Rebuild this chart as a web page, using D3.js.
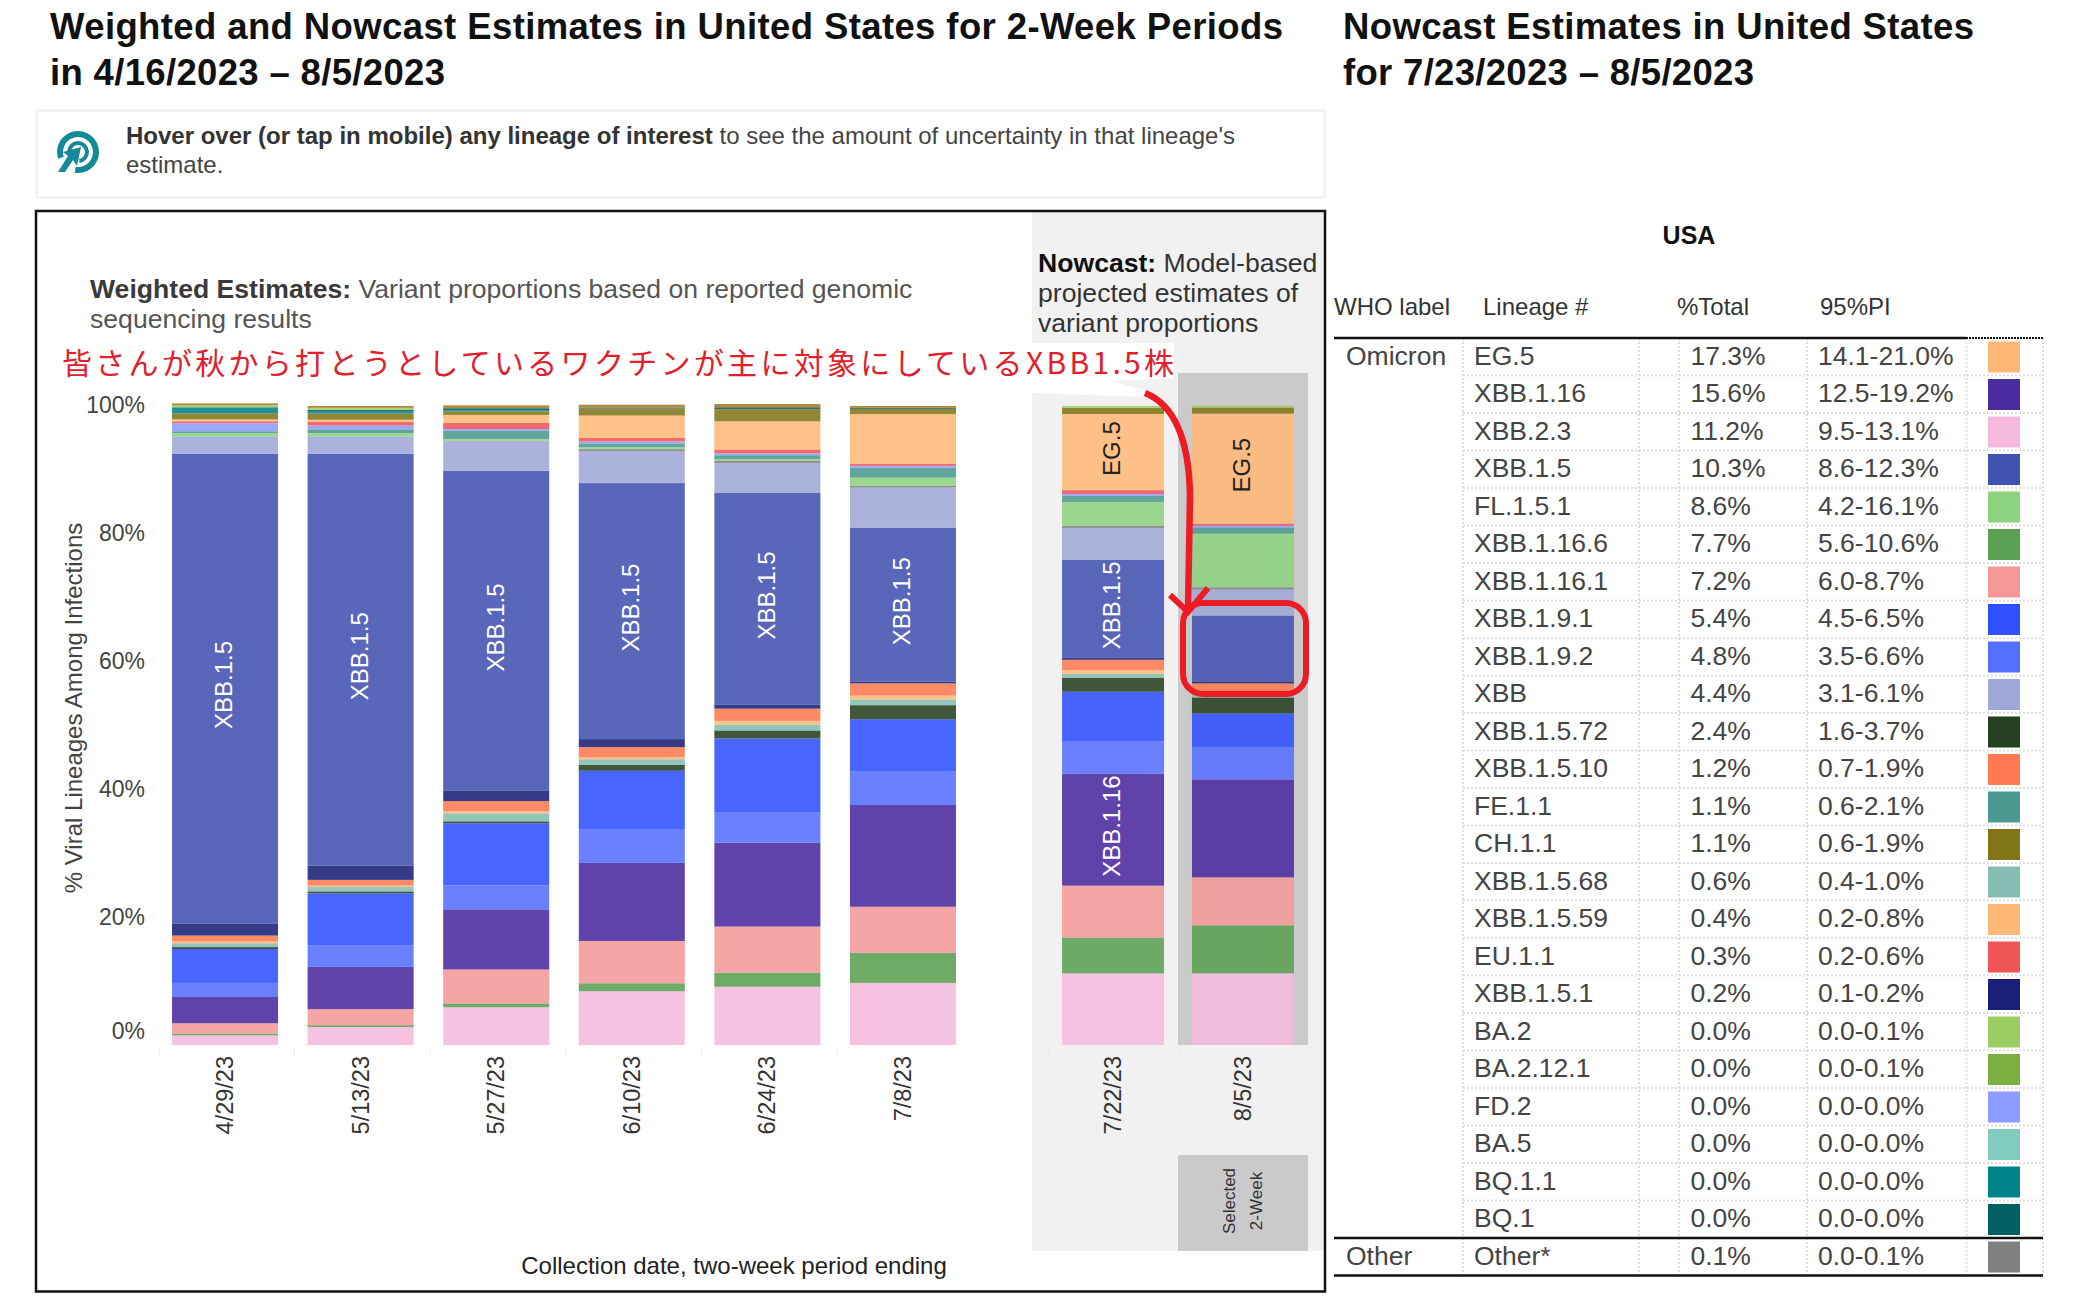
<!DOCTYPE html>
<html>
<head>
<meta charset="utf-8">
<script src="https://cdn.jsdelivr.net/npm/d3@7"></script>
<style>
  body { margin: 0; background: #fff; }
  text { font-family: "Liberation Sans", Arial, sans-serif; }
</style>
</head>
<body>
<script>
const w = 2073;
const h = 1307;

// periods
const weightedDates = ["4/29/23", "5/13/23", "5/27/23", "6/10/23", "6/24/23", "7/8/23"];
const nowcastDates = ["7/22/23", "8/5/23"];
const allDates = weightedDates.concat(nowcastDates);

// % per period (same order as allDates)
const xbb23 = [1.5, 2.8, 5.9, 8.4, 9.1, 9.7, 11.2, 11.2];
const xbb1166 = [0.3, 0.3, 0.6, 1.25, 2.2, 4.7, 5.6, 7.5];
const xbb1161 = [1.6, 2.5, 5.3, 6.6, 7.2, 7.2, 8.1, 7.5];
const xbb116 = [4.1, 6.6, 9.4, 12.2, 13.1, 15.9, 17.5, 15.3];
const xbb192 = [2.2, 3.4, 3.75, 5.3, 4.7, 5.3, 5.0, 5.0];
const xbb191 = [5.3, 8.1, 9.7, 9.1, 11.6, 8.1, 7.8, 5.3];
const xbb1572 = [0.3, 0.3, 0.3, 0.9, 1.25, 2.2, 2.2, 2.5];
const xbb1568 = [0.6, 0.7, 1.25, 0.9, 0.9, 0.9, 0.6, 0.6];
const xbb1559 = [0.3, 0.2, 0.3, 0.3, 0.6, 0.6, 0.6, 0.4];
const xbb1510 = [0.9, 0.9, 1.6, 1.6, 1.9, 1.9, 1.6, 1.2];
const xbb151 = [1.9, 2.2, 1.6, 1.25, 0.6, 0.3, 0.3, 0.3];
const xbb15 = [73.4, 64.4, 50, 40, 33.1, 24, 15.3, 10.3];
const xbb = [2.7, 2.7, 4.7, 5, 4.7, 6.3, 5, 4.1];
const other = [0, 0, 0, 0.3, 0.3, 0.3, 0.3, 0.3];
const fl151 = [0.5, 0.5, 0.3, 0.3, 0.3, 1.25, 3.75, 8.4];
const fe11 = [0.3, 0.6, 1.25, 0.6, 0.6, 1.55, 0.95, 0.95];
const fd2 = [1.25, 0.6, 0.3, 0.3, 0.3, 0.3, 0.3, 0.3];
const eu11 = [0.3, 0.6, 0.95, 0.6, 0.6, 0.3, 0.6, 0.3];
const eg5 = [0.3, 0.3, 1.25, 3.45, 4.4, 7.8, 11.9, 17.2];
const ch11 = [0.95, 0.95, 0.55, 1.1, 1.9, 0.8, 0.95, 0.95];
const bq11 = [0.95, 0.3, 0.2, 0, 0, 0, 0, 0];
const bq1 = [0, 0.3, 0.3, 0.15, 0.3, 0.15, 0, 0];
const ba2 = [0.3, 0.3, 0, 0, 0, 0, 0.3, 0.3];
const older = [0.3, 0.3, 0.45, 0.45, 0.5, 0.3, 0, 0];

const stackNames = ["XBB.2.3", "XBB.1.16.6", "XBB.1.16.1", "XBB.1.16", "XBB.1.9.2", "XBB.1.9.1",
  "XBB.1.5.72", "XBB.1.5.68", "XBB.1.5.59", "XBB.1.5.10", "XBB.1.5.1", "XBB.1.5", "XBB", "Other*",
  "FL.1.5.1", "FE.1.1", "FD.2", "EU.1.1", "EG.5", "CH.1.1", "BQ.1.1", "BQ.1", "BA.2", "Older"];
const stackValues = [xbb23, xbb1166, xbb1161, xbb116, xbb192, xbb191, xbb1572, xbb1568, xbb1559,
  xbb1510, xbb151, xbb15, xbb, other, fl151, fe11, fd2, eu11, eg5, ch11, bq11, bq1, ba2, older];

// table on the right
const tableLineages = ["EG.5", "XBB.1.16", "XBB.2.3", "XBB.1.5", "FL.1.5.1", "XBB.1.16.6", "XBB.1.16.1",
  "XBB.1.9.1", "XBB.1.9.2", "XBB", "XBB.1.5.72", "XBB.1.5.10", "FE.1.1", "CH.1.1", "XBB.1.5.68",
  "XBB.1.5.59", "EU.1.1", "XBB.1.5.1", "BA.2", "BA.2.12.1", "FD.2", "BA.5", "BQ.1.1", "BQ.1", "Other*"];
const tableTotals = ["17.3%", "15.6%", "11.2%", "10.3%", "8.6%", "7.7%", "7.2%", "5.4%", "4.8%", "4.4%",
  "2.4%", "1.2%", "1.1%", "1.1%", "0.6%", "0.4%", "0.3%", "0.2%", "0.0%", "0.0%", "0.0%", "0.0%",
  "0.0%", "0.0%", "0.1%"];
const tablePI = ["14.1-21.0%", "12.5-19.2%", "9.5-13.1%", "8.6-12.3%", "4.2-16.1%", "5.6-10.6%", "6.0-8.7%",
  "4.5-6.5%", "3.5-6.6%", "3.1-6.1%", "1.6-3.7%", "0.7-1.9%", "0.6-2.1%", "0.6-1.9%", "0.4-1.0%",
  "0.2-0.8%", "0.2-0.6%", "0.1-0.2%", "0.0-0.1%", "0.0-0.1%", "0.0-0.0%", "0.0-0.0%", "0.0-0.0%",
  "0.0-0.0%", "0.0-0.1%"];
const tableColors = ["#ffb878", "#4a2a9f", "#f5b9de", "#4152b0", "#8dd27f", "#5a9f52", "#f59898",
  "#3050ff", "#5570ff", "#9fa8d8", "#254020", "#ff7a50", "#4a9a92", "#827518", "#85bdb2",
  "#ffb878", "#f05555", "#1a2078", "#9dcd65", "#7daf40", "#8c9cff", "#82cbbf", "#00838a",
  "#005f60", "#808080"];
const yTicks = [0, 20, 40, 60, 80, 100];

const colorOf = d3.scaleOrdinal()
  .domain(tableLineages.concat(["Older"]))
  .range(tableColors.concat(["#a87a20"]));

const svg = d3.select("body").append("svg").attr("width", w).attr("height", h)
  .style("display", "block");

function txt(x, y, str, o = {}) {
  const t = svg.append("text").attr("x", x).attr("y", y).text(str)
    .attr("font-size", o.size || 23)
    .attr("font-weight", o.weight || "normal")
    .attr("fill", o.fill || "#444")
    .attr("text-anchor", o.anchor || "start");
  if (o.len) t.attr("textLength", o.len).attr("lengthAdjust", "spacing");
  return t;
}

// titles
txt(50, 39, "Weighted and Nowcast Estimates in United States for 2-Week Periods", { size: 36.5, weight: "bold", fill: "#111", len: 1233 });
txt(50, 85, "in 4/16/2023 – 8/5/2023", { size: 36.5, weight: "bold", fill: "#111", len: 395 });
txt(1343, 39, "Nowcast Estimates in United States", { size: 36.5, weight: "bold", fill: "#111", len: 631 });
txt(1343, 85, "for 7/23/2023 – 8/5/2023", { size: 36.5, weight: "bold", fill: "#111", len: 411 });

// hover note
svg.append("rect").attr("x", 36.5).attr("y", 110.5).attr("width", 1288).attr("height", 87)
  .attr("fill", "#fff").attr("stroke", "#f3f3f3").attr("stroke-width", 3);
const note = txt(126, 144, "", { size: 24, fill: "#444" });
note.append("tspan").attr("font-weight", "bold").attr("fill", "#333").text("Hover over (or tap in mobile) any lineage of interest");
note.append("tspan").text(" to see the amount of uncertainty in that lineage's");
txt(126, 173, "estimate.", { size: 24 });

// target icon
const icon = svg.append("g").attr("transform", "translate(78,152)").attr("fill", "#17889a");
const ring = d3.arc();
icon.append("path").attr("d", ring({ innerRadius: 15, outerRadius: 21, startAngle: -1.9, endAngle: 3.3 }));
icon.append("path").attr("d", ring({ innerRadius: 7, outerRadius: 11, startAngle: -1.5, endAngle: 3.0 }));
icon.append("path").attr("d", "M3,-5 L-1,14 L-5,8 L-13,20 L-20,20 L-10,4 L-15,0 Z");

// nowcast background, with the pasted white strip behind the red text
svg.append("rect").attr("x", 1032).attr("y", 212).attr("width", 293).attr("height", 1039).attr("fill", "#f1f1f1");
svg.append("path").attr("fill", "#fff")
  .attr("d", "M1032,343 L1174,343 L1174,378 L1112,381 L1145,390 L1145,397 L1032,393 Z");

// selected 2-week band
svg.append("rect").attr("x", 1178).attr("y", 373).attr("width", 130).attr("height", 672).attr("fill", "#cacaca");
svg.append("rect").attr("x", 1178).attr("y", 1155).attr("width", 130).attr("height", 96).attr("fill", "#cacaca");

svg.append("rect").attr("x", 36).attr("y", 211).attr("width", 1289).attr("height", 1080.5)
  .attr("fill", "none").attr("stroke", "#111").attr("stroke-width", 2.5);

// scales
const y = d3.scaleLinear().domain([0, 100]).range([1045, 405]);
const xWeighted = d3.scaleBand().domain(weightedDates).range([159, 969]).paddingInner(0.218).paddingOuter(0.096);
const xNowcast = d3.scaleBand().domain(nowcastDates).range([1048, 1308]).paddingInner(0.215).paddingOuter(0.108);
const xPos = d => weightedDates.includes(d) ? xWeighted(d) : xNowcast(d);
const barW = d => weightedDates.includes(d) ? xWeighted.bandwidth() : xNowcast.bandwidth();

// stacked bars
const rows = allDates.map((date, i) => {
  const row = { date };
  stackNames.forEach((name, k) => { row[name] = stackValues[k][i]; });
  return row;
});
const layers = d3.stack().keys(stackNames)(rows);

svg.append("g").selectAll("g").data(layers).join("g")
  .attr("fill", d => colorOf(d.key))
  .selectAll("rect").data(d => d).join("rect")
  .attr("x", d => xPos(d.data.date))
  .attr("width", d => barW(d.data.date))
  .attr("y", d => y(d[1]))
  .attr("height", d => Math.max(0, y(d[0]) - y(d[1])))
  .attr("fill-opacity", 0.88);

// labels inside bars
const barLabels = [
  ["XBB.1.5", "4/29/23", "#fff"], ["XBB.1.5", "5/13/23", "#fff"], ["XBB.1.5", "5/27/23", "#fff"],
  ["XBB.1.5", "6/10/23", "#fff"], ["XBB.1.5", "6/24/23", "#fff"], ["XBB.1.5", "7/8/23", "#fff"],
  ["XBB.1.5", "7/22/23", "#fff"], ["XBB.1.16", "7/22/23", "#fff"],
  ["EG.5", "7/22/23", "#222"], ["EG.5", "8/5/23", "#222"]
];
barLabels.forEach(([name, date, fill]) => {
  const seg = layers.find(l => l.key === name)[allDates.indexOf(date)];
  const cx = xPos(date) + barW(date) / 2 - 1;
  const cy = y((seg[0] + seg[1]) / 2) - 3.5;
  svg.append("text").attr("transform", `translate(${cx},${cy}) rotate(-90)`)
    .attr("text-anchor", "middle").attr("dy", "0.35em")
    .attr("font-size", 24).attr("fill", fill).text(name);
});

// y axis
const yAxis = svg.append("g").attr("transform", "translate(156,0)")
  .call(d3.axisLeft(y).tickValues(yTicks).tickFormat(d => d + "%").tickSize(6).tickPadding(5));
yAxis.select(".domain").remove();
yAxis.selectAll(".tick line").attr("stroke", "#eee");
yAxis.selectAll(".tick text").attr("font-size", 23).attr("fill", "#444")
  .style("font-family", '"Liberation Sans", Arial, sans-serif');
yAxis.selectAll(".tick").filter(d => d === 0).attr("transform", `translate(0,${y(0) - 13})`);

// x ticks and date labels
const xTickOf = d => xPos(d) - 13;
svg.append("g").selectAll("line").data(allDates).join("line")
  .attr("x1", xTickOf).attr("x2", xTickOf).attr("y1", 1047).attr("y2", 1055).attr("stroke", "#e8e8e8");
svg.append("g").selectAll("text").data(allDates).join("text")
  .attr("transform", d => `translate(${xPos(d) + barW(d) / 2 - 0.5},1056) rotate(-90)`)
  .attr("text-anchor", "end").attr("dy", "0.36em")
  .attr("font-size", 23.5).attr("fill", "#333").text(d => d);

// chart captions
const wTitle = txt(90, 298, "", { size: 26.6, fill: "#555" });
wTitle.append("tspan").attr("font-weight", "bold").attr("fill", "#3a3a3a").text("Weighted Estimates:");
wTitle.append("tspan").text(" Variant proportions based on reported genomic");
txt(90, 328, "sequencing results", { size: 26.6, fill: "#555" });
const nTitle = txt(1038, 272, "", { size: 26.6, fill: "#333" });
nTitle.append("tspan").attr("font-weight", "bold").attr("fill", "#111").text("Nowcast:");
nTitle.append("tspan").text(" Model-based");
txt(1038, 302, "projected estimates of", { size: 26.6, fill: "#333" });
txt(1038, 332, "variant proportions", { size: 26.6, fill: "#333" });

txt(734, 1274, "Collection date, two-week period ending", { size: 24, fill: "#222", anchor: "middle" });

svg.append("text").attr("transform", "translate(82,708) rotate(-90)")
  .attr("text-anchor", "middle").attr("font-size", 24).attr("fill", "#444")
  .text("% Viral Lineages Among Infections");

// selected box caption
[["Selected", 1235], ["2-Week", 1262]].forEach(([s, x0]) => {
  svg.append("text").attr("transform", `translate(${x0},1201) rotate(-90)`)
    .attr("text-anchor", "middle").attr("font-size", 17).attr("fill", "#333").text(s);
});

// red annotation
svg.append("text").attr("x", 62).attr("y", 374)
  .attr("textLength", 1112).attr("lengthAdjust", "spacing")
  .style("font-family", '"Noto Sans CJK JP", sans-serif')
  .attr("font-size", 30).attr("fill", "#e0202a")
  .text("皆さんが秋から打とうとしているワクチンが主に対象にしているXBB1.5株");
const redStroke = "#ed1c24";
svg.append("path").attr("fill", "none").attr("stroke", redStroke).attr("stroke-width", 6.5)
  .attr("d", "M1145,393 C1175,405 1189,440 1190,495 L1188,612");
svg.append("path").attr("fill", "none").attr("stroke", redStroke).attr("stroke-width", 6)
  .attr("d", "M1170,595 L1188,612 L1208,588");
svg.append("rect").attr("x", 1183).attr("y", 603).attr("width", 123).attr("height", 91).attr("rx", 20)
  .attr("fill", "none").attr("stroke", redStroke).attr("stroke-width", 6);

// table
const colLines = [1463, 1639, 1679, 1807, 1966.5, 2043];
const rowH = 37.5;
const rowTop = 338;
const rowY = i => rowTop + i * rowH;
const tableBottom = rowY(25);

txt(1689, 244, "USA", { size: 25, weight: "bold", fill: "#111", anchor: "middle" });
[["WHO label", 1334], ["Lineage #", 1483], ["%Total", 1677], ["95%PI", 1820]].forEach(([s, x0]) => {
  txt(x0, 315, s, { size: 24, fill: "#333" });
});

svg.append("g").selectAll("line").data(colLines).join("line")
  .attr("x1", d => d).attr("x2", d => d).attr("y1", rowTop).attr("y2", tableBottom)
  .attr("stroke", "#ddd").attr("stroke-width", 2).attr("stroke-dasharray", "2,2");
svg.append("g").selectAll("line").data(d3.range(1, 24)).join("line")
  .attr("x1", 1463).attr("x2", 2043).attr("y1", rowY).attr("y2", rowY)
  .attr("stroke", "#ddd").attr("stroke-width", 2).attr("stroke-dasharray", "2,2");

const tableRows = svg.append("g").selectAll("g").data(tableLineages).join("g")
  .attr("transform", (d, i) => `translate(0,${rowY(i)})`);
tableRows.append("text").attr("x", 1474).attr("y", 26.5).attr("font-size", 26.5).attr("fill", "#444").text(d => d);
tableRows.append("text").attr("x", 1690.5).attr("y", 26.5).attr("font-size", 26.5).attr("fill", "#444").text((d, i) => tableTotals[i]);
tableRows.append("text").attr("x", 1818).attr("y", 26.5).attr("font-size", 26.5).attr("fill", "#444").text((d, i) => tablePI[i]);
tableRows.append("rect").attr("x", 1988).attr("y", 3.5).attr("width", 32).attr("height", 31)
  .attr("fill", (d, i) => tableColors[i]);

txt(1346, rowY(0) + 26.5, "Omicron", { size: 26.5 });
txt(1346, rowY(24) + 26.5, "Other", { size: 26.5 });

[[1334, 1966, rowTop], [1334, 2043, rowY(24)], [1334, 2043, tableBottom]].forEach(([a, b, yy]) => {
  svg.append("line").attr("x1", a).attr("x2", b).attr("y1", yy).attr("y2", yy)
    .attr("stroke", "#111").attr("stroke-width", 2.5);
});
svg.append("line").attr("x1", 1966).attr("x2", 2043).attr("y1", rowTop).attr("y2", rowTop)
  .attr("stroke", "#111").attr("stroke-width", 2).attr("stroke-dasharray", "2,1");
</script>
</body>
</html>
